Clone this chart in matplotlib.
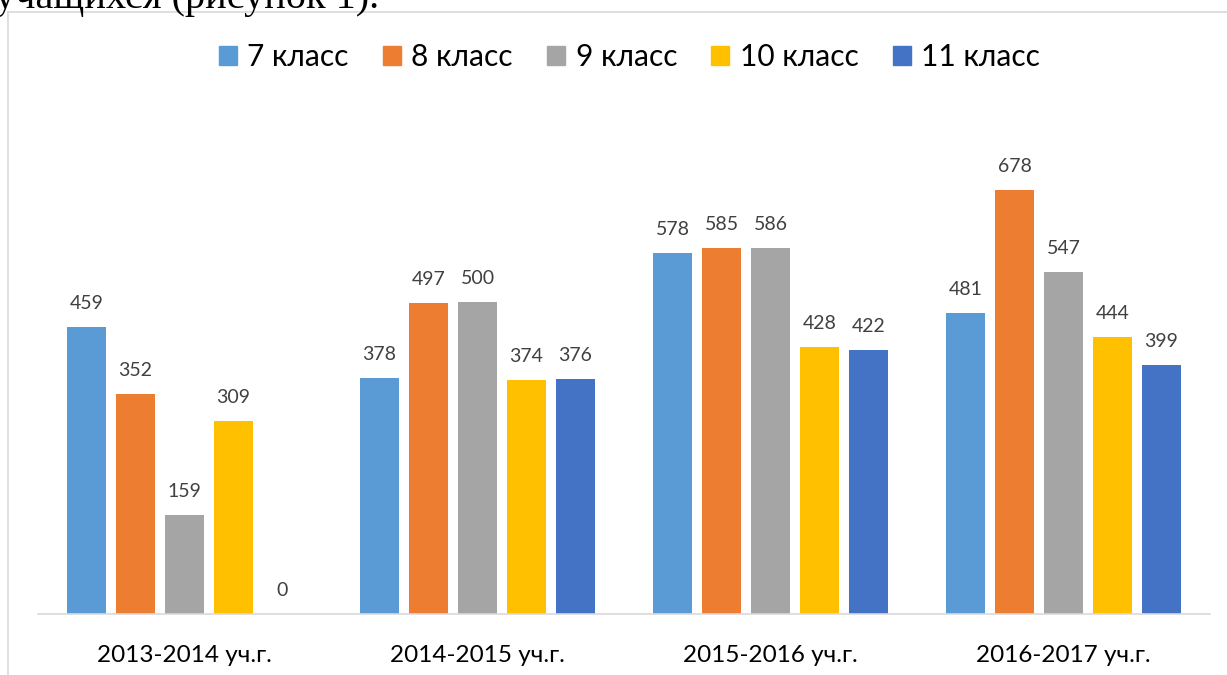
import numpy as np
import matplotlib.pyplot as plt
from matplotlib.patches import Rectangle
from matplotlib.lines import Line2D

plt.rcParams['font.family'] = ['Lato', 'DejaVu Sans']

years = ['2013-2014 уч.г.', '2014-2015 уч.г.', '2015-2016 уч.г.', '2016-2017 уч.г.']
grades = ['7 класс', '8 класс', '9 класс', '10 класс', '11 класс']
grade7 = [459, 378, 578, 481]
grade8 = [352, 497, 585, 678]
grade9 = [159, 500, 586, 547]
grade10 = [309, 374, 428, 444]
grade11 = [0, 376, 422, 399]
colors = ['#5B9BD5', '#ED7D31', '#A5A5A5', '#FFC000', '#4472C4']

series = [grade7, grade8, grade9, grade10, grade11]

fig = plt.figure(figsize=(12.27, 6.75), dpi=100)
# axes: x 38..1210 px, baseline at y=614 px
ax = fig.add_axes([38 / 1227, (675 - 614) / 675, (1210 - 38) / 1227, 500 / 675])

x = np.arange(len(years))
pitch = 49 / 293
width = 39 / 293
for i, (vals, c) in enumerate(zip(series, colors)):
    pos = x + (i - 2) * pitch
    ax.bar(pos, vals, width=width, color=c, zorder=2)
    for px, v in zip(pos, vals):
        ax.text(px, v + 24, str(v), ha='center', va='bottom', fontsize=14, color='#404040')

ax.set_xlim(-0.5, len(years) - 0.5)
ax.set_ylim(0, 800)
for s in ['top', 'right', 'left']:
    ax.spines[s].set_visible(False)
ax.spines['bottom'].set_color('#D9D9D9')
ax.spines['bottom'].set_linewidth(1.2)
ax.set_yticks([])
ax.set_xticks(x)
ax.set_xticklabels(years, fontsize=17.5, color='#000000')
ax.tick_params(axis='x', length=0, pad=22)

# legend
handles = [Rectangle((0, 0), 1, 1, color=c) for c in colors]
fig.legend(handles, grades, loc='center', bbox_to_anchor=(0.513, 1 - 57 / 675), ncol=5,
           frameon=False, fontsize=21.5, handlelength=0.6, handleheight=0.6,
           handletextpad=0.35, columnspacing=1.15)

# chart frame border
fig.add_artist(Line2D([8 / 1227, 1], [1 - 12 / 675] * 2, color='#D9D9D9', lw=1.2))
fig.add_artist(Line2D([8 / 1227] * 2, [0, 1 - 12 / 675], color='#D9D9D9', lw=1.2))

# cropped document text above the chart
fig.text(-0.004, 1 - 8 / 675, 'учащихся (рисунок 1).', family=['Liberation Serif'],
         fontsize=29, va='baseline', ha='left')

fig.savefig('out.png', dpi=100)
